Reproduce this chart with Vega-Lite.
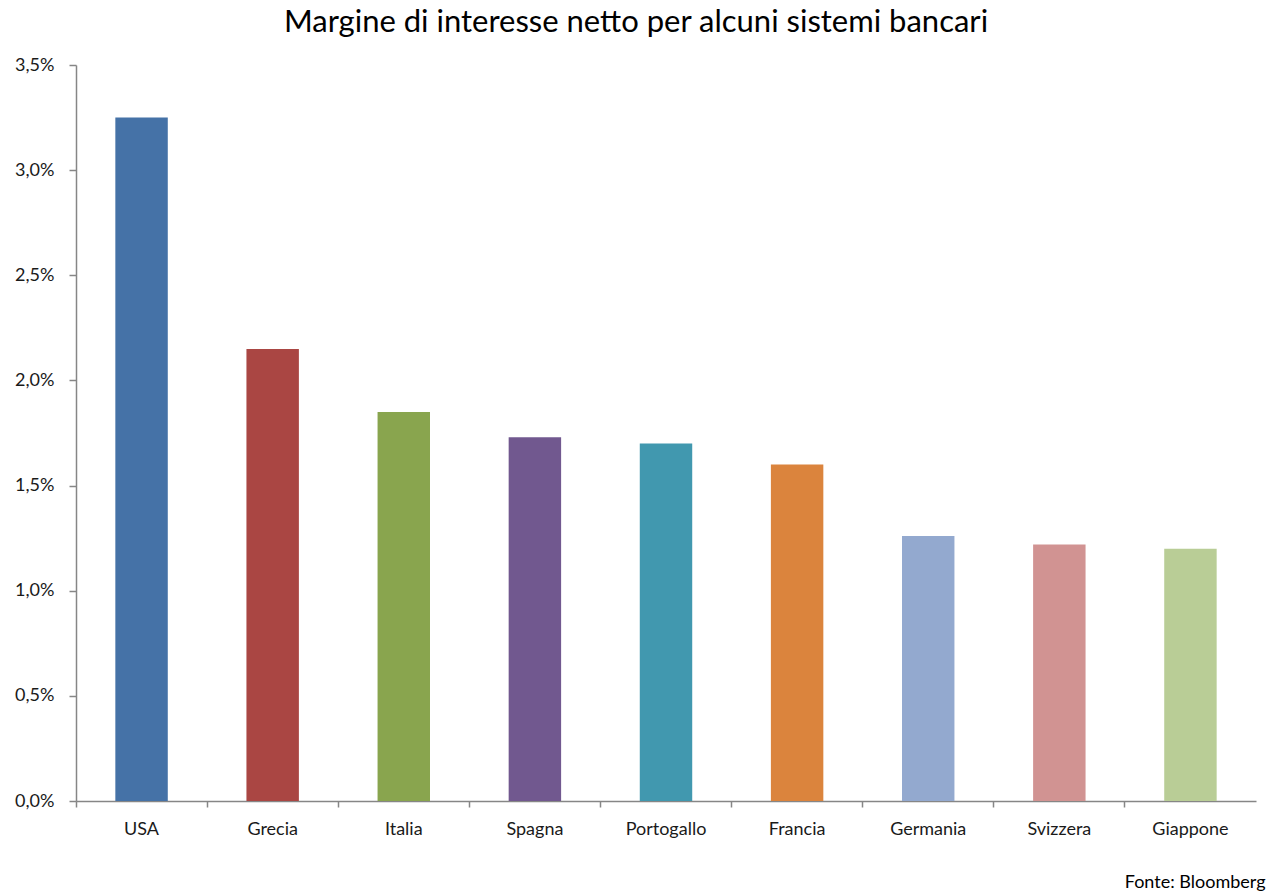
{
  "$schema": "https://vega.github.io/schema/vega-lite/v6.json",
  "autosize": "none",
  "width": 1180,
  "height": 736,
  "padding": {"left": 76, "top": 65, "right": 11, "bottom": 90},
  "background": "white",
  "config": {
    "locale": {"number": {"decimal": ",", "thousands": ".", "grouping": [3], "currency": ["€", ""]}},
    "view": {"stroke": null}
  },
  "title": {
    "text": "Margine di interesse netto per alcuni sistemi bancari",
    "font": "Lato",
    "fontSize": 31,
    "fontWeight": "normal",
    "color": "#000000",
    "anchor": "middle",
    "dx": -30,
    "offset": 17
  },
  "data": {
    "values": [
      {"paese": "USA", "valore": 0.0325},
      {"paese": "Grecia", "valore": 0.0215},
      {"paese": "Italia", "valore": 0.0185},
      {"paese": "Spagna", "valore": 0.0173},
      {"paese": "Portogallo", "valore": 0.0170},
      {"paese": "Francia", "valore": 0.0160},
      {"paese": "Germania", "valore": 0.0126},
      {"paese": "Svizzera", "valore": 0.0122},
      {"paese": "Giappone", "valore": 0.0120}
    ]
  },
  "mark": {"type": "bar", "width": {"band": 0.4}},
  "encoding": {
    "x": {
      "field": "paese",
      "type": "nominal",
      "sort": null,
      "scale": {"paddingInner": 0, "paddingOuter": 0},
      "axis": {
        "title": "Fonte: Bloomberg",
        "titleFont": "Lato",
        "titleFontSize": 18,
        "titleFontWeight": "normal",
        "titleColor": "#000000",
        "titleAnchor": "end",
        "titleAlign": "right",
        "titleBaseline": "alphabetic",
        "titleX": 1189,
        "titleY": 86,
        "labelAngle": 0,
        "labelFont": "Lato",
        "labelFontSize": 18,
        "labelColor": "#1a1a1a",
        "labelPadding": 13,
        "labelBound": false,
        "domainColor": "#868686",
        "domainWidth": 1.5,
        "tickColor": "#868686",
        "tickWidth": 1.5,
        "tickSize": 6,
        "bandPosition": 0,
        "grid": false
      }
    },
    "y": {
      "field": "valore",
      "type": "quantitative",
      "scale": {"domain": [0, 0.035], "nice": false},
      "axis": {
        "title": null,
        "values": [0, 0.005, 0.01, 0.015, 0.02, 0.025, 0.03, 0.035],
        "format": ".1%",
        "labelFont": "Lato",
        "labelFontSize": 18,
        "labelColor": "#1a1a1a",
        "labelPadding": 15,
        "domainColor": "#868686",
        "domainWidth": 1.5,
        "tickColor": "#868686",
        "tickWidth": 1.5,
        "tickSize": 7,
        "grid": false
      }
    },
    "color": {
      "field": "paese",
      "type": "nominal",
      "sort": null,
      "legend": null,
      "scale": {
        "domain": ["USA", "Grecia", "Italia", "Spagna", "Portogallo", "Francia", "Germania", "Svizzera", "Giappone"],
        "range": ["#4572A7", "#AA4643", "#89A54E", "#71588F", "#4198AF", "#DB843D", "#93A9CF", "#D19392", "#B9CD96"]
      }
    }
  }
}
